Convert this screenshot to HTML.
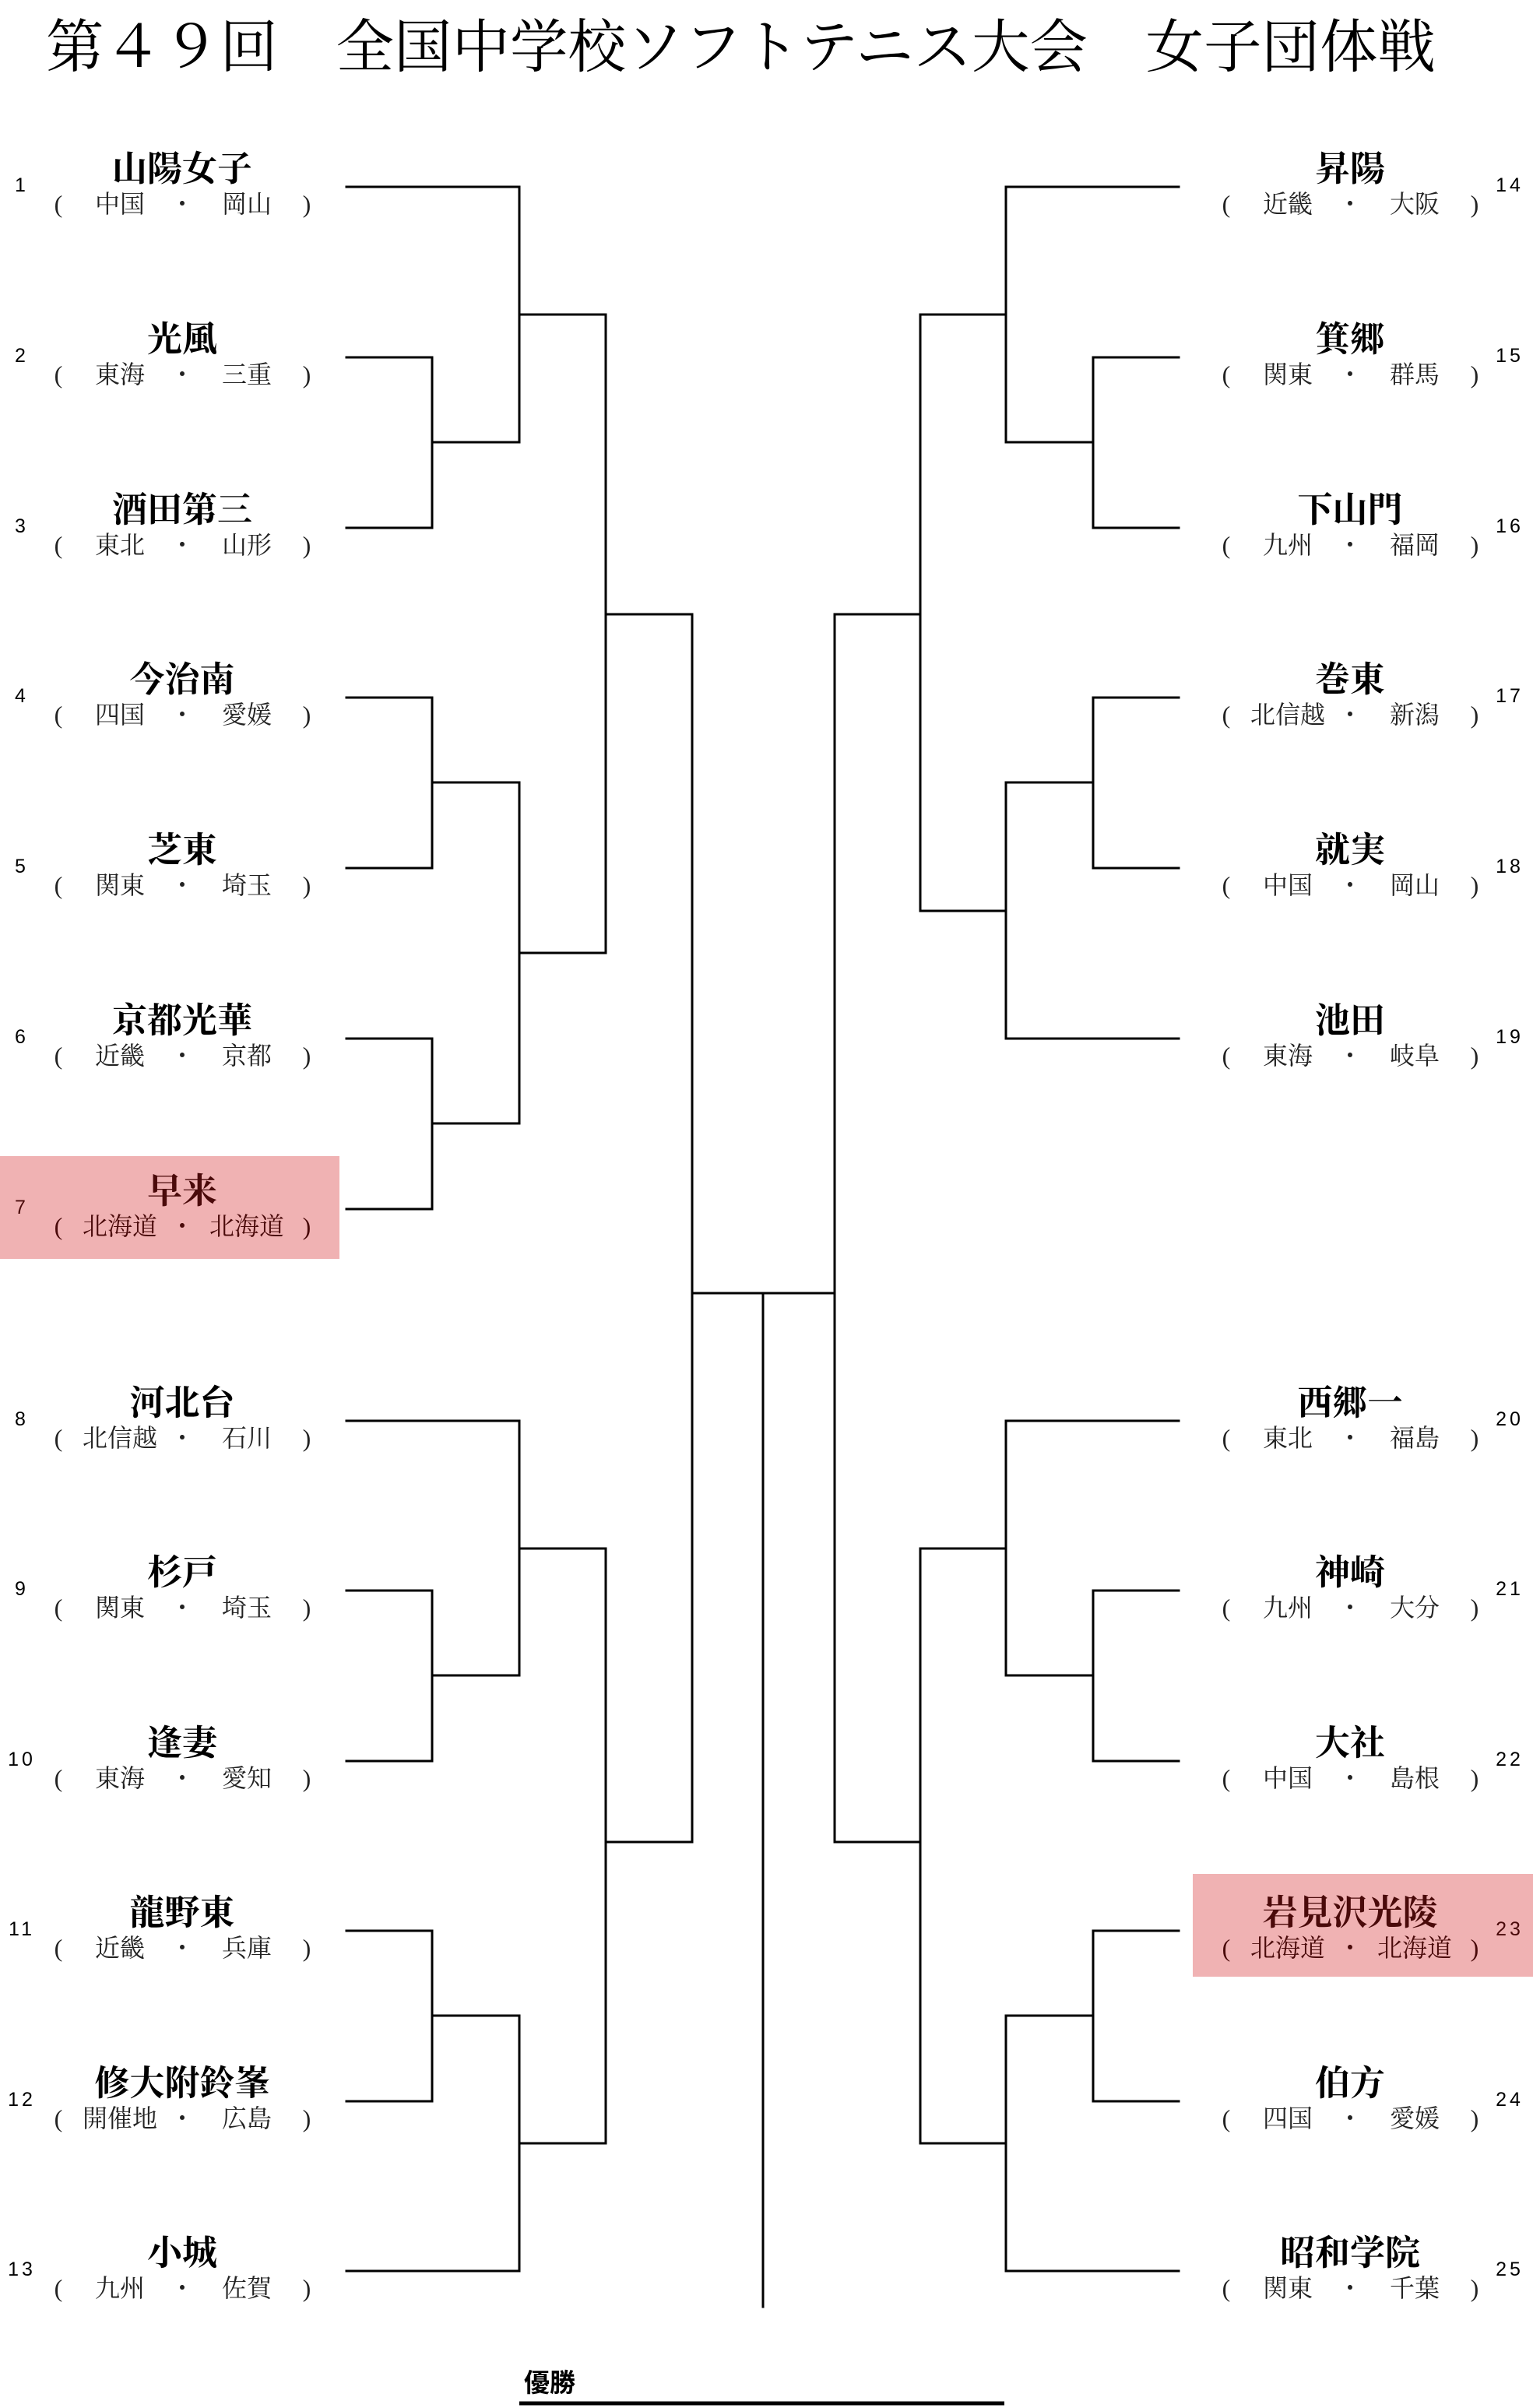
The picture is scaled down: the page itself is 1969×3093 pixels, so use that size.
<!DOCTYPE html>
<html><head><meta charset="utf-8">
<style>
html,body{margin:0;padding:0;background:#fff;}
body{width:1969px;height:3093px;position:relative;overflow:hidden;}
.t{position:absolute;white-space:nowrap;}
.title{left:59px;top:23px;font:400 74.5px/78px "Liberation Serif","Noto Serif CJK SC",serif;color:#000;}
.nm{position:absolute;width:500px;text-align:center;font:700 45px/48px "Liberation Serif","Noto Serif CJK SC",serif;color:#000;white-space:nowrap;}
.sb{position:absolute;width:120px;text-align:center;font:400 32px/36px "Liberation Serif","Noto Serif CJK SC",serif;color:#222;white-space:nowrap;}
.no{position:absolute;width:60px;text-align:center;font:400 25px/28px "Liberation Sans",sans-serif;color:#000;white-space:nowrap;letter-spacing:4px;}
.hl{position:absolute;background:#f0b2b3;}
.red .nm,.red .sb,.red .no{color:#4a0a0a;}
.g .nm{top:-47px;}
.g .sb{top:4px;}
</style></head><body>
<div class="t title">第４９回　全国中学校ソフトテニス大会　女子団体戦</div>

<div class="hl" style="left:0;top:1485px;width:436px;height:132px"></div>
<div class="hl" style="left:1532px;top:2407px;width:437px;height:132px"></div>

<svg width="1969" height="3093" style="position:absolute;left:0;top:0" fill="none" stroke="#000" stroke-width="3" stroke-linecap="square">
<path d="M445 240H667"/>
<path d="M445 459H555V678H445"/>
<path d="M555 568H667"/>
<path d="M667 240V568"/>
<path d="M667 404H778"/>
<path d="M445 896H555V1115H445"/>
<path d="M555 1005H667"/>
<path d="M445 1334H555V1553H445"/>
<path d="M555 1443H667"/>
<path d="M667 1005V1443"/>
<path d="M667 1224H778"/>
<path d="M778 404V1224"/>
<path d="M778 789H889"/>
<path d="M445 1825H667"/>
<path d="M445 2043H555V2262H445"/>
<path d="M555 2152H667"/>
<path d="M667 1825V2152"/>
<path d="M667 1989H778"/>
<path d="M445 2480H555V2699H445"/>
<path d="M555 2589H667"/>
<path d="M445 2917H667"/>
<path d="M667 2589V2917"/>
<path d="M667 2753H778"/>
<path d="M778 1989V2753"/>
<path d="M778 2366H889"/>
<path d="M889 789V2366"/>
<path d="M889 1661H1072"/>
<path d="M980 1661V2963"/>
<path d="M1514 240H1292"/>
<path d="M1514 459H1404V678H1514"/>
<path d="M1404 568H1292"/>
<path d="M1292 240V568"/>
<path d="M1292 404H1182"/>
<path d="M1514 896H1404V1115H1514"/>
<path d="M1404 1005H1292"/>
<path d="M1514 1334H1292"/>
<path d="M1292 1005V1334"/>
<path d="M1292 1170H1182"/>
<path d="M1182 404V1170"/>
<path d="M1182 789H1072"/>
<path d="M1514 1825H1292"/>
<path d="M1514 2043H1404V2262H1514"/>
<path d="M1404 2152H1292"/>
<path d="M1292 1825V2152"/>
<path d="M1292 1989H1182"/>
<path d="M1514 2480H1404V2699H1514"/>
<path d="M1404 2589H1292"/>
<path d="M1514 2917H1292"/>
<path d="M1292 2589V2917"/>
<path d="M1292 2753H1182"/>
<path d="M1182 1989V2753"/>
<path d="M1182 2366H1072"/>
<path d="M1072 789V2366"/>
<path d="M667 3087H1290" stroke-width="5" stroke-linecap="butt"/>
</svg>

<div class="t" style="left:673px;top:3042px;font:700 33px/38px 'Liberation Sans','Noto Sans CJK JP',sans-serif;">優勝</div>

<div class="g" style="position:absolute;left:0;top:240px">
<div class="no" style="left:-2px;top:-16px">1</div>
<div class="nm" style="left:-16px">山陽女子</div>
<div class="sb" style="left:15px">(</div><div class="sb" style="left:94px">中国</div><div class="sb" style="left:174px">・</div><div class="sb" style="left:257px">岡山</div><div class="sb" style="left:334px">)</div>
</div>
<div class="g" style="position:absolute;left:0;top:459px">
<div class="no" style="left:-2px;top:-16px">2</div>
<div class="nm" style="left:-16px">光風</div>
<div class="sb" style="left:15px">(</div><div class="sb" style="left:94px">東海</div><div class="sb" style="left:174px">・</div><div class="sb" style="left:257px">三重</div><div class="sb" style="left:334px">)</div>
</div>
<div class="g" style="position:absolute;left:0;top:678px">
<div class="no" style="left:-2px;top:-16px">3</div>
<div class="nm" style="left:-16px">酒田第三</div>
<div class="sb" style="left:15px">(</div><div class="sb" style="left:94px">東北</div><div class="sb" style="left:174px">・</div><div class="sb" style="left:257px">山形</div><div class="sb" style="left:334px">)</div>
</div>
<div class="g" style="position:absolute;left:0;top:896px">
<div class="no" style="left:-2px;top:-16px">4</div>
<div class="nm" style="left:-16px">今治南</div>
<div class="sb" style="left:15px">(</div><div class="sb" style="left:94px">四国</div><div class="sb" style="left:174px">・</div><div class="sb" style="left:257px">愛媛</div><div class="sb" style="left:334px">)</div>
</div>
<div class="g" style="position:absolute;left:0;top:1115px">
<div class="no" style="left:-2px;top:-16px">5</div>
<div class="nm" style="left:-16px">芝東</div>
<div class="sb" style="left:15px">(</div><div class="sb" style="left:94px">関東</div><div class="sb" style="left:174px">・</div><div class="sb" style="left:257px">埼玉</div><div class="sb" style="left:334px">)</div>
</div>
<div class="g" style="position:absolute;left:0;top:1334px">
<div class="no" style="left:-2px;top:-16px">6</div>
<div class="nm" style="left:-16px">京都光華</div>
<div class="sb" style="left:15px">(</div><div class="sb" style="left:94px">近畿</div><div class="sb" style="left:174px">・</div><div class="sb" style="left:257px">京都</div><div class="sb" style="left:334px">)</div>
</div>
<div class="g red" style="position:absolute;left:0;top:1553px">
<div class="no" style="left:-2px;top:-16px">7</div>
<div class="nm" style="left:-16px">早来</div>
<div class="sb" style="left:15px">(</div><div class="sb" style="left:94px">北海道</div><div class="sb" style="left:174px">・</div><div class="sb" style="left:257px">北海道</div><div class="sb" style="left:334px">)</div>
</div>
<div class="g" style="position:absolute;left:0;top:1825px">
<div class="no" style="left:-2px;top:-16px">8</div>
<div class="nm" style="left:-16px">河北台</div>
<div class="sb" style="left:15px">(</div><div class="sb" style="left:94px">北信越</div><div class="sb" style="left:174px">・</div><div class="sb" style="left:257px">石川</div><div class="sb" style="left:334px">)</div>
</div>
<div class="g" style="position:absolute;left:0;top:2043px">
<div class="no" style="left:-2px;top:-16px">9</div>
<div class="nm" style="left:-16px">杉戸</div>
<div class="sb" style="left:15px">(</div><div class="sb" style="left:94px">関東</div><div class="sb" style="left:174px">・</div><div class="sb" style="left:257px">埼玉</div><div class="sb" style="left:334px">)</div>
</div>
<div class="g" style="position:absolute;left:0;top:2262px">
<div class="no" style="left:-2px;top:-16px">10</div>
<div class="nm" style="left:-16px">逢妻</div>
<div class="sb" style="left:15px">(</div><div class="sb" style="left:94px">東海</div><div class="sb" style="left:174px">・</div><div class="sb" style="left:257px">愛知</div><div class="sb" style="left:334px">)</div>
</div>
<div class="g" style="position:absolute;left:0;top:2480px">
<div class="no" style="left:-2px;top:-16px">11</div>
<div class="nm" style="left:-16px">龍野東</div>
<div class="sb" style="left:15px">(</div><div class="sb" style="left:94px">近畿</div><div class="sb" style="left:174px">・</div><div class="sb" style="left:257px">兵庫</div><div class="sb" style="left:334px">)</div>
</div>
<div class="g" style="position:absolute;left:0;top:2699px">
<div class="no" style="left:-2px;top:-16px">12</div>
<div class="nm" style="left:-16px">修大附鈴峯</div>
<div class="sb" style="left:15px">(</div><div class="sb" style="left:94px">開催地</div><div class="sb" style="left:174px">・</div><div class="sb" style="left:257px">広島</div><div class="sb" style="left:334px">)</div>
</div>
<div class="g" style="position:absolute;left:0;top:2917px">
<div class="no" style="left:-2px;top:-16px">13</div>
<div class="nm" style="left:-16px">小城</div>
<div class="sb" style="left:15px">(</div><div class="sb" style="left:94px">九州</div><div class="sb" style="left:174px">・</div><div class="sb" style="left:257px">佐賀</div><div class="sb" style="left:334px">)</div>
</div>

<div class="g" style="position:absolute;left:1500px;top:240px">
<div class="no" style="left:409px;top:-16px">14</div>
<div class="nm" style="left:-16px">昇陽</div>
<div class="sb" style="left:15px">(</div><div class="sb" style="left:94px">近畿</div><div class="sb" style="left:174px">・</div><div class="sb" style="left:257px">大阪</div><div class="sb" style="left:334px">)</div>
</div>
<div class="g" style="position:absolute;left:1500px;top:459px">
<div class="no" style="left:409px;top:-16px">15</div>
<div class="nm" style="left:-16px">箕郷</div>
<div class="sb" style="left:15px">(</div><div class="sb" style="left:94px">関東</div><div class="sb" style="left:174px">・</div><div class="sb" style="left:257px">群馬</div><div class="sb" style="left:334px">)</div>
</div>
<div class="g" style="position:absolute;left:1500px;top:678px">
<div class="no" style="left:409px;top:-16px">16</div>
<div class="nm" style="left:-16px">下山門</div>
<div class="sb" style="left:15px">(</div><div class="sb" style="left:94px">九州</div><div class="sb" style="left:174px">・</div><div class="sb" style="left:257px">福岡</div><div class="sb" style="left:334px">)</div>
</div>
<div class="g" style="position:absolute;left:1500px;top:896px">
<div class="no" style="left:409px;top:-16px">17</div>
<div class="nm" style="left:-16px">巻東</div>
<div class="sb" style="left:15px">(</div><div class="sb" style="left:94px">北信越</div><div class="sb" style="left:174px">・</div><div class="sb" style="left:257px">新潟</div><div class="sb" style="left:334px">)</div>
</div>
<div class="g" style="position:absolute;left:1500px;top:1115px">
<div class="no" style="left:409px;top:-16px">18</div>
<div class="nm" style="left:-16px">就実</div>
<div class="sb" style="left:15px">(</div><div class="sb" style="left:94px">中国</div><div class="sb" style="left:174px">・</div><div class="sb" style="left:257px">岡山</div><div class="sb" style="left:334px">)</div>
</div>
<div class="g" style="position:absolute;left:1500px;top:1334px">
<div class="no" style="left:409px;top:-16px">19</div>
<div class="nm" style="left:-16px">池田</div>
<div class="sb" style="left:15px">(</div><div class="sb" style="left:94px">東海</div><div class="sb" style="left:174px">・</div><div class="sb" style="left:257px">岐阜</div><div class="sb" style="left:334px">)</div>
</div>
<div class="g" style="position:absolute;left:1500px;top:1825px">
<div class="no" style="left:409px;top:-16px">20</div>
<div class="nm" style="left:-16px">西郷一</div>
<div class="sb" style="left:15px">(</div><div class="sb" style="left:94px">東北</div><div class="sb" style="left:174px">・</div><div class="sb" style="left:257px">福島</div><div class="sb" style="left:334px">)</div>
</div>
<div class="g" style="position:absolute;left:1500px;top:2043px">
<div class="no" style="left:409px;top:-16px">21</div>
<div class="nm" style="left:-16px">神崎</div>
<div class="sb" style="left:15px">(</div><div class="sb" style="left:94px">九州</div><div class="sb" style="left:174px">・</div><div class="sb" style="left:257px">大分</div><div class="sb" style="left:334px">)</div>
</div>
<div class="g" style="position:absolute;left:1500px;top:2262px">
<div class="no" style="left:409px;top:-16px">22</div>
<div class="nm" style="left:-16px">大社</div>
<div class="sb" style="left:15px">(</div><div class="sb" style="left:94px">中国</div><div class="sb" style="left:174px">・</div><div class="sb" style="left:257px">島根</div><div class="sb" style="left:334px">)</div>
</div>
<div class="g red" style="position:absolute;left:1500px;top:2480px">
<div class="no" style="left:409px;top:-16px">23</div>
<div class="nm" style="left:-16px">岩見沢光陵</div>
<div class="sb" style="left:15px">(</div><div class="sb" style="left:94px">北海道</div><div class="sb" style="left:174px">・</div><div class="sb" style="left:257px">北海道</div><div class="sb" style="left:334px">)</div>
</div>
<div class="g" style="position:absolute;left:1500px;top:2699px">
<div class="no" style="left:409px;top:-16px">24</div>
<div class="nm" style="left:-16px">伯方</div>
<div class="sb" style="left:15px">(</div><div class="sb" style="left:94px">四国</div><div class="sb" style="left:174px">・</div><div class="sb" style="left:257px">愛媛</div><div class="sb" style="left:334px">)</div>
</div>
<div class="g" style="position:absolute;left:1500px;top:2917px">
<div class="no" style="left:409px;top:-16px">25</div>
<div class="nm" style="left:-16px">昭和学院</div>
<div class="sb" style="left:15px">(</div><div class="sb" style="left:94px">関東</div><div class="sb" style="left:174px">・</div><div class="sb" style="left:257px">千葉</div><div class="sb" style="left:334px">)</div>
</div>
</body></html>
